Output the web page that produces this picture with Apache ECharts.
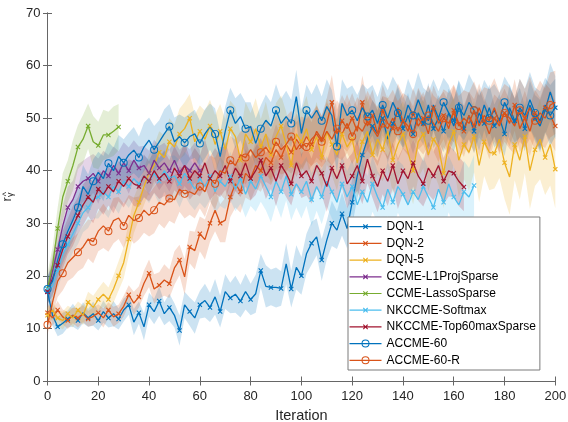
<!DOCTYPE html>
<html><head><meta charset="utf-8">
<script src="https://cdn.jsdelivr.net/npm/echarts@6/dist/echarts.min.js"></script>
<style>html,body{margin:0;padding:0;background:#fff}#c{width:568px;height:422px}</style>
</head><body><div id="c"></div>
<script>
// iterations are sampled every STEP
const STEP = 2;
const X_TICK_INTERVAL = 20;
const Y_TICK_INTERVAL = 10;

const NAMES = ['DQN-1','DQN-2','DQN-5','CCME-L1ProjSparse','CCME-LassoSparse','NKCCME-Softmax','NKCCME-Top60maxSparse','ACCME-60','ACCME-60-R'];

const DQN1 = [17,12.5,10.3,11,11.8,12.5,11.5,13,12,12.8,
 11.5,13.2,12,12.8,11.8,13.5,14.5,11.2,13,10.3,
 14.5,13.2,15.2,12.8,14,12.5,9.6,14.5,13.2,12,
 14.5,15.3,14,16,13.2,17,15.8,16.5,15.2,17,
 15.5,16.6,21,18,17.8,17.8,17.6,22.3,17.5,21.6,
 20,24.2,26.2,27.4,23,26.8,30,28.7,31.8,29,
 34,39,43,46,48.5,47,50,46,49,51.5,
 48,50.5,47,51,49,52.5,48,50,47.5,51,
 49.5,53,48,50.5,47.5,51,49,52,48.5,50,
 47,52,49.5,51,48,52.5,50,48.5,51.5,55,
 52];
const DQN1_HW = [2.5,2,1.8,2,1.6,2.2,1.8,2,1.7,2.3,
 1.9,2.1,1.8,2.4,2,2.2,1.9,2.5,2.1,2.6,
 2.3,2.4,2.8,2.2,2.6,2.3,2.9,2.5,2.7,3,
 2.6,3.2,2.8,3.4,3,3.3,2.9,3.5,3.1,3.4,
 3,3.6,3.2,4,3.4,3.8,3.3,3.9,3.5,4.2,
 3.6,3.8,4.1,3.5,4,3.7,4.3,3.6,4.1,3.8,
 4.5,4.2,4.8,4.4,5,4.5,4.1,4.6,4,4.4,
 3.9,4.3,3.8,4.5,4,4.2,3.7,4.4,4,4.6,
 4.1,4.3,3.9,4.5,4.2,4.7,4,4.4,4.1,4.6,
 4.2,4.5,4.1,4.8,4.3,4.6,4.4,5,4.7,5.5,
 6];

const DQN2 = [13,12,13.5,12.2,11.5,12.5,12,12.8,11.8,12.3,
 13,12,13.5,12.2,12.8,14.2,16.4,14.8,16,18.6,
 20.5,17.5,18.2,19.2,18.5,21.5,23,19.8,25.5,24.8,
 28,26.9,30,32.5,30,30.6,35,37.5,36,39.5,
 38.5,41,40,42.5,41.5,44,42.5,45,43.5,46,
 44.5,46.5,45,47.5,46,49,53,47,49.5,48,
 50,47.5,53,48.5,50.5,47,51.5,49,48,52,
 49.5,47.5,51,48.5,50,47,52,49,50.5,48,
 51.5,49,47.5,50.5,48.5,52,49.5,47,50,48.5,
 51,49,52.5,48,50,47.5,51,49,52,50.5,
 48.5];
const DQN2_HW = [1.8,1.5,1.7,1.4,1.6,1.5,1.8,1.6,1.5,1.7,
 1.6,1.8,1.5,1.9,1.7,2,1.8,2.2,2,2.4,
 2.6,2.8,2.5,3,2.7,3.2,2.9,3.4,3.1,3.6,
 3.3,3.8,3.5,4,3.6,4.2,3.8,4.5,4,4.6,
 4.2,4.4,4,4.6,4.2,4.8,4.3,4.7,4.1,4.9,
 4.4,4.6,4.2,5,4.5,4.8,5.2,4.6,4.9,4.4,
 4.8,4.5,5.1,4.6,4.9,4.3,4.8,4.5,5,4.6,
 4.9,4.4,4.8,4.5,5,4.6,4.2,4.8,4.5,5,
 4.7,4.4,4.9,4.5,5.1,4.6,4.3,4.8,4.5,5,
 4.6,4.4,4.9,4.5,5.2,4.7,4.4,4.9,4.6,5,
 4.8];

const DQN5 = [12.5,13.5,12,11.5,12.8,12,13.5,12.5,15,14,
 15.5,16.5,15.5,17.5,20,22.5,27,31.5,34,37,
 39.5,41,43.5,42.5,45.5,44.5,47,48,50,45.5,
 47.5,46,48.5,45,47.5,44,48,46.5,42,47,
 45.5,48,44.5,47,43,46.5,48.5,45,41,47,
 45.5,48,44,46.5,42.5,47.5,45,43,47,44.5,
 46,41.5,45.5,47.5,43,46,44,47.5,42,45,
 47,43.5,40,45.5,47,43,46,44.5,39.5,45,
 47.5,42,45,43.5,46.5,41,45.5,43.5,43.3,46,
 41.5,38.8,45,42,46.5,40,44,46,42.5,45,
 40.3];
const DQN5_HW = [1.5,1.6,1.4,1.7,1.5,1.8,1.6,1.9,2,2.2,
 2.1,2.4,2.3,2.6,2.8,3,3.2,3.4,3.3,3.5,
 3.6,3.8,4,4.2,4.5,4.3,4.8,5,4.6,5.2,
 4.9,5.4,5,5.6,5.2,5.8,5.3,5.6,5.1,6,
 5.5,5.8,5.3,6.1,5.6,6.4,5.8,6.2,5.5,6.5,
 5.9,6.2,5.7,6.6,6,6.3,5.8,6.8,6.1,6.4,
 6,6.5,6.1,6.8,6.2,6.6,6,6.9,6.3,6.7,
 6.2,6.8,6.4,7,6.5,6.9,6.3,7.2,6.6,7,
 6.5,7.1,6.6,7.3,6.8,7,6.5,7.2,6.7,7.4,
 6.9,7.2,6.8,7.5,7,7.3,6.9,7.6,7.1,7.8,
 7.5];

const L1PROJ = [17,21,25,29.5,33,34.5,37,38,38.5,39.5,
 38,40,39,41,39.5,41.5,40,42,40.5,41,
 39.5,42,40.5,41.5,40,42,39.7,41,40,41.5,
 40];
const L1PROJ_HW = [2.5,3,3.5,3.8,4,3.6,4.2,3.9,4.1,3.7,
 4.3,3.8,4,3.6,4.2,3.9,4.4,3.8,4.1,3.7,
 4.3,3.9,4.2,3.8,4,3.7,4.3,3.9,4.1,3.8,
 4];

const LASSO = [17.5,22,29,35,38,41,44.5,46,48.5,45.5,44.8,46.8,46.8,47.5,48.3];
const LASSO_HW = [3,3.5,4,4.5,4,4.8,4.2,4.6,4.3,4.9,4.5,4.8,4.4,4.7,4.4];

const SOFTMAX = [17.5,18,21,24,26,28,30,32,33,34.5,
 35,36,35,37,36,38,37,38.5,37.5,39,
 38,39.5,38,40,38.5,39,37.5,39.5,38,36.5,
 38.5,37,39,36,38,37,39,36.5,38.5,35.5,
 38,36.5,39,37,35,38,36,39,35.5,37.5,
 36,38,34.5,37,35,38,36,34,37.5,35,
 37,33.5,36,34,37.5,35,33,36.5,34,37,
 35.5,33.5,36,34.5,37,35,33,36.5,34,37.5,
 35,33.5,36,35,37.2];
const SOFTMAX_HW = [2.5,3,3.4,3.6,3.8,3.5,4,3.7,3.9,3.6,
 4.1,3.8,4,3.7,4.2,3.9,4.1,3.8,4.3,3.9,
 4.2,3.8,4.4,4,4.3,3.9,4.5,4.1,4.4,4,
 4.6,4.2,4.5,4.1,4.7,4.3,4.6,4.2,4.8,4.4,
 4.7,4.3,4.9,4.5,4.8,4.4,5,4.6,4.9,4.5,
 5.1,4.7,5,4.6,5.2,4.8,5.1,4.7,5.3,4.9,
 5.2,4.8,5.4,5,5.3,4.9,5.5,5.1,5.4,5,
 5.6,5.2,5.5,5.1,5.7,5.3,5.6,5.2,5.8,5.4,
 5.7,5.3,5.9,5.5,5.8];

const TOP60 = [17,19.5,22,25,27.5,29.5,31.5,33.5,35,34,
 36.5,35.5,37,36,38,37,38.5,37.5,37,39,
 38,40,38.5,39.5,38,40.5,39,41,38.5,40,
 39,41.5,38.5,40,39,41,38,40.5,39,41.5,
 38.5,40,42,39,40.5,38,41,39.5,37.5,41.5,
 39,40,38,41,39.5,37,40.5,38.5,41,37.5,
 39,41,38,42.2,39,37,40,38,41,37.5,
 40,38.5,41.5,39,37.5,40.5,39,41,38,40,
 39.5,38,36.9];
const TOP60_HW = [2.5,3,3.3,3.6,3.4,3.8,3.5,3.9,3.6,4,
 3.7,3.9,3.6,4.1,3.8,4,3.7,4.2,3.9,4.1,
 3.8,4.2,3.9,4.3,4,4.2,3.8,4.4,4,4.3,
 3.9,4.5,4.1,4.3,4,4.6,4.2,4.4,4,4.5,
 4.1,4.6,4.2,4.4,4,4.7,4.3,4.5,4.1,4.6,
 4.2,4.7,4.3,4.5,4.1,4.8,4.4,4.6,4.2,4.7,
 4.3,4.8,4.4,4.6,4.2,4.9,4.5,4.7,4.3,4.8,
 4.4,4.9,4.5,4.7,4.3,5,4.6,4.8,4.4,4.9,
 4.5,4.7,4.6];

const ACCME60 = [17.5,19,23,26,28.5,30.6,33,37,35.5,38,
 39.7,38.5,41.4,40,42.7,41.5,43,43.9,42.5,44.5,
 45.8,44,45.5,47,48.4,45.5,46.5,45.3,46.5,47,
 45.2,47,48.4,47,42.7,47.5,51.5,49,50.3,48,
 48.4,45.2,48,49.6,48.5,51.5,49,50.3,49,54.1,
 47.1,51.5,50,51.5,49.5,52.2,50.5,44.6,52.8,50.5,
 51.5,49.5,52,50.3,51.5,49,52.5,50,53,51,
 49,52.5,50.5,53.5,51,49.5,52.5,50,53,51,
 48.5,52,50.5,53,51.5,49,52.5,50,51.5,49.5,
 53,51,49,52,50.5,53.5,51,49.5,52.5,50.5,
 52];
const ACCME60_HW = [2.5,3,3.3,3.6,3.8,4,3.7,4.1,3.8,4.2,
 3.9,4.3,4,4.4,4.1,4.5,4.2,4.4,4,4.6,
 4.3,4.5,4.1,4.7,4.3,4.6,4.2,4.8,4.4,4.6,
 4.3,4.7,4.4,4.9,4.5,4.7,4.3,4.8,4.5,5,
 4.6,4.8,4.4,4.9,4.5,5,4.7,4.9,4.5,5.1,
 4.7,4.9,4.5,5,4.6,5.2,4.8,5,4.6,5.1,
 4.7,4.9,4.5,5.2,4.8,5,4.6,5.3,4.9,5.1,
 4.7,5,4.6,5.2,4.8,5.4,4.9,5.1,4.7,5.3,
 4.9,5.1,4.7,5.4,5,5.2,4.8,5.5,5,5.3,
 4.9,5.2,4.8,5.5,5.1,5.3,4.9,5.6,5.2,5.8,
 5.5];

const ACCME60R = [10.7,15,19,20.5,22.5,23.5,24.5,25.5,27,26.5,
 28.5,29.5,28.5,30.5,31,29.5,31.5,30.5,31,32.5,
 31.5,32.5,34,33.5,34.7,34.5,36.5,35.6,36,35.5,
 37,36,38.5,37.5,40,39.5,42,41,43,42.5,
 44,42.5,43.5,44.5,43,45.5,44,45,46.5,44,
 45.5,44.5,46,47,45.5,47.5,46,48,47,49,
 46.5,48.5,47.5,49.5,48,46.5,49,48,50,47.5,
 49.5,48.5,47,50,48.5,50.5,49,47.5,50,49,
 51,48.5,50,49,51.5,48.5,50.5,49.5,52,49,
 51,50,48.5,51.5,50,52,49.5,51,50,52.5,
 53];
const ACCME60R_HW = [1.8,2.5,3,3.3,3.5,3.8,3.6,4,3.7,4.1,
 3.8,4.2,3.9,4.3,4,4.2,3.9,4.4,4.1,4.3,
 4,4.4,4.1,4.5,4.2,4.6,4.3,4.7,4.4,4.6,
 4.2,4.8,4.4,4.9,4.5,5,4.6,4.9,4.5,5.1,
 4.7,5,4.6,5.2,4.8,5.1,4.7,5.3,4.9,5.2,
 4.8,5.4,5,5.3,4.9,5.5,5.1,5.4,5,5.6,
 5.2,5.5,5.1,5.7,5.3,5.6,5.2,5.8,5.4,5.7,
 5.3,5.6,5.2,5.8,5.4,5.7,5.3,5.9,5.5,5.8,
 5.4,5.7,5.3,5.9,5.5,5.8,5.4,6,5.6,5.9,
 5.5,5.8,5.4,6,5.6,5.9,5.5,6.1,5.7,6.2,
 6];

const COLORS = ['#0072BD','#D95319','#EDB120','#7E2F8E','#77AC30','#4DBEEE','#A2142F','#0072BD','#D95319'];
const MARKERS = ['x','x','x','x','x','x','x','o','o'];
const MEANS = [DQN1,DQN2,DQN5,L1PROJ,LASSO,SOFTMAX,TOP60,ACCME60,ACCME60R];
const HWS = [DQN1_HW,DQN2_HW,DQN5_HW,L1PROJ_HW,LASSO_HW,SOFTMAX_HW,TOP60_HW,ACCME60_HW,ACCME60R_HW];

const X_PATH = 'path://M14.2,1.4L18.6,5.8L17.8,6.6L13.4,2.2Z M14.2,6.6L13.4,5.8L17.8,1.4L18.6,2.2Z';
const O_PATH = 'path://M0,5A5,5 0 1,1 10,5A5,5 0 1,1 0,5Z M1.2,5A3.8,3.8 0 1,0 8.8,5A3.8,3.8 0 1,0 1.2,5Z';
const LEG_X = 'path://M0,0L0.01,0L0,0.01Z M0,8L0.01,8L0,7.99Z M0,3.4H32V4.6H0Z M14.2,1.4L18.6,5.8L17.8,6.6L13.4,2.2Z M14.2,6.6L13.4,5.8L17.8,1.4L18.6,2.2Z';
const LEG_O = 'path://M0,3.4H32V4.6H0Z M12,4A4,4 0 1,1 20,4A4,4 0 1,1 12,4Z M13,4A3,3 0 1,0 19,4A3,3 0 1,0 13,4Z';

const FONT = 'Liberation Sans, Arial, Helvetica, sans-serif';
const series = [];
NAMES.forEach((name, k) => {
  const m = MEANS[k], h = HWS[k], c = COLORS[k];
  series.push({ name: name + ' band', type: 'custom', silent: true, clip: true, animation: false,
    data: m.map((v, i) => [i * STEP, v - h[i], v + h[i]]),
    encode: { x: 0, y: [1, 2] },
    renderItem: (params, api) => {
      if (params.dataIndex !== 0) return null;
      const pts = [];
      for (let i = 0; i < m.length; i++) pts.push(api.coord([i * STEP, m[i] + h[i]]));
      for (let i = m.length - 1; i >= 0; i--) pts.push(api.coord([i * STEP, m[i] - h[i]]));
      return { type: 'polygon', shape: { points: pts }, style: { fill: c, opacity: 0.2 } };
    } });
  const isX = MARKERS[k] === 'x';
  series.push({ name: name, type: 'line', silent: true, color: c,
    data: m.map((v, i) => [i * STEP, v]),
    symbol: isX ? X_PATH : O_PATH,
    symbolSize: (val, p) => (p.dataIndex % (isX ? 2 : 3) === 0 ? (isX ? 5 : 8) : 0),
    showSymbol: true, showAllSymbol: true,
    itemStyle: { color: c, borderWidth: 0 },
    lineStyle: { color: c, width: 1.3 }, animation: false });
});

const axisColor = '#666';
const chart = echarts.init(document.getElementById('c'), null, { renderer: 'canvas' });
chart.setOption({
  backgroundColor: '#fff',
  animation: false,
  grid: { left: 47.5, right: 12.7, top: 13, bottom: 41, containLabel: false, outerBoundsMode: 'none' },
  graphic: [
    // circumflex of the y-axis symbol (r-hat), drawn as text above the rotated "r"
    { type: 'text', left: 2.5, top: 192, rotation: Math.PI / 2, silent: true,
      style: { text: '^', fontSize: 9, fontFamily: FONT, fill: '#262626' } }
  ],
  xAxis: [
    { type: 'value', min: 0, max: 200, interval: X_TICK_INTERVAL, position: 'bottom',
      axisLine: { lineStyle: { color: axisColor, width: 1 } },
      axisTick: { inside: true, length: 4.5, lineStyle: { color: axisColor } },
      axisLabel: { color: '#262626', fontSize: 13, fontFamily: FONT, margin: 9 },
      splitLine: { show: false },
      name: 'Iteration', nameLocation: 'middle', nameGap: 27,
      nameTextStyle: { color: '#262626', fontSize: 14.5, fontFamily: FONT } },
    { type: 'value', min: 0, max: 200, interval: X_TICK_INTERVAL, position: 'top',
      axisLine: { lineStyle: { color: axisColor, width: 1 } },
      axisTick: { inside: true, length: 4.5, lineStyle: { color: axisColor } },
      axisLabel: { show: false }, splitLine: { show: false } }
  ],
  yAxis: [
    { type: 'value', min: 0, max: 70, interval: Y_TICK_INTERVAL, position: 'left',
      axisLine: { show: true, lineStyle: { color: axisColor, width: 1 } },
      axisTick: { show: true, inside: true, length: 4.5, lineStyle: { color: axisColor } },
      axisLabel: { color: '#262626', fontSize: 13, fontFamily: FONT, margin: 7 },
      splitLine: { show: false },
      name: '{r|r}{g|\u03b3}', nameLocation: 'middle', nameGap: 27, nameRotate: 90,
      nameTextStyle: { rich: {
        r: { fontSize: 13, fontFamily: FONT, color: '#262626', lineHeight: 16 },
        g: { fontSize: 9, fontFamily: FONT, color: '#262626', lineHeight: 16, verticalAlign: 'bottom' } } } },
    { type: 'value', min: 0, max: 70, interval: Y_TICK_INTERVAL, position: 'right',
      axisLine: { show: true, lineStyle: { color: axisColor, width: 1 } },
      axisTick: { show: true, inside: true, length: 4.5, lineStyle: { color: axisColor } },
      axisLabel: { show: false }, splitLine: { show: false } }
  ],
  legend: {
    orient: 'vertical', left: 348, top: 217,
    itemWidth: 32, itemHeight: 8, itemGap: 2.7,
    padding: [2.7, 4, 2.7, 1.5],
    backgroundColor: '#fff', borderColor: '#7a7a7a', borderWidth: 1, borderRadius: 0,
    selectedMode: false,
    textStyle: { fontFamily: FONT, fontSize: 12, color: '#000', lineHeight: 14 },
    data: NAMES.map((n, k) => ({ name: n, icon: MARKERS[k] === 'x' ? LEG_X : LEG_O,
      itemStyle: { color: COLORS[k], borderWidth: 0 } }))
  },
  series: series
});
</script></body></html>
